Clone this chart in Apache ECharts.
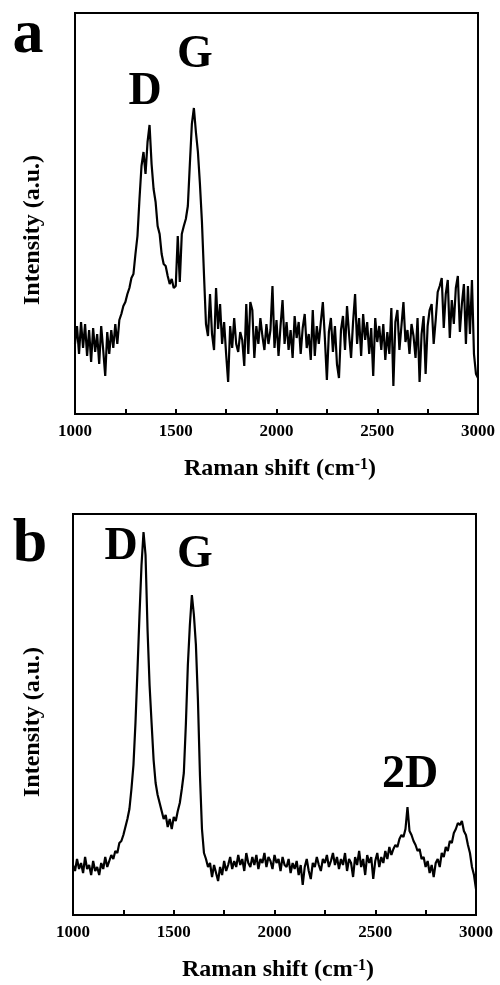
<!DOCTYPE html>
<html>
<head>
<meta charset="utf-8">
<script src="https://cdn.jsdelivr.net/npm/echarts@6/dist/echarts.min.js"></script>
<style>
html,body{margin:0;padding:0;background:#fff;}
#chart{width:500px;height:985px;}
</style>
</head>
<body>
<div id="chart"></div>
<script>
// Raman shift (cm-1) sampling positions
var ramanShift = [
1000,1010,1020,1030,1040,1050,1060,1070,1080,1090,1100,1110,1120,1130,1140,1150,1160,1170,1180,1190,
1200,1210,1220,1230,1240,1250,1260,1270,1280,1290,1300,1310,1320,1330,1340,1350,1360,1370,1380,1390,
1400,1410,1420,1430,1440,1450,1460,1470,1480,1490,1500,1510,1520,1530,1540,1550,1560,1570,1580,1590,
1600,1610,1620,1630,1640,1650,1660,1670,1680,1690,1700,1710,1720,1730,1740,1750,1760,1770,1780,1790,
1800,1810,1820,1830,1840,1850,1860,1870,1880,1890,1900,1910,1920,1930,1940,1950,1960,1970,1980,1990,
2000,2010,2020,2030,2040,2050,2060,2070,2080,2090,2100,2110,2120,2130,2140,2150,2160,2170,2180,2190,
2200,2210,2220,2230,2240,2250,2260,2270,2280,2290,2300,2310,2320,2330,2340,2350,2360,2370,2380,2390,
2400,2410,2420,2430,2440,2450,2460,2470,2480,2490,2500,2510,2520,2530,2540,2550,2560,2570,2580,2590,
2600,2610,2620,2630,2640,2650,2660,2670,2680,2690,2700,2710,2720,2730,2740,2750,2760,2770,2780,2790,
2800,2810,2820,2830,2840,2850,2860,2870,2880,2890,2900,2910,2920,2930,2940,2950,2960,2970,2980,2990,
3000
];
// Panel a intensity (a.u.)
var intensityA = [
70,88,60,92,66,90,58,84,52,86,62,80,50,88,64,38,82,60,84,66,
90,70,94,100,108,112,120,126,136,140,160,178,215,248,262,240,272,289,250,225,
212,188,180,160,150,148,138,130,135,126,128,178,132,180,188,195,208,250,290,306,
282,262,230,192,140,90,78,120,80,64,126,85,110,70,92,60,32,88,66,96,
70,62,82,74,48,110,60,112,104,56,88,70,96,78,64,90,70,84,128,66,
94,58,88,114,70,92,64,84,56,98,76,92,60,86,100,66,80,54,104,58,
88,70,92,112,76,34,82,96,62,88,50,36,84,98,64,108,80,56,92,120,
70,96,58,100,74,92,60,86,38,96,72,88,64,90,54,82,60,106,28,92,
104,64,88,112,72,84,60,90,78,56,96,32,80,98,40,88,104,110,70,94,
122,128,136,86,120,134,76,114,90,126,138,82,110,130,70,128,80,134,60,40,
36
];
// Panel b intensity (a.u.)
var intensityB = [
50,44,56,46,52,42,58,46,50,40,54,44,48,40,52,46,58,48,54,60,
56,64,62,72,74,80,88,96,106,126,150,192,245,300,350,383,360,285,230,192,
155,132,120,112,104,96,100,88,96,86,98,94,104,112,126,142,190,250,290,320,
300,270,215,140,86,62,56,48,52,38,50,42,34,48,40,54,44,50,58,46,
54,48,60,50,56,44,62,52,48,58,50,60,46,56,52,62,48,58,54,46,
60,52,56,44,58,50,48,56,42,52,46,54,40,50,30,48,56,44,36,52,
48,58,50,44,56,52,60,48,54,62,50,58,46,56,50,62,44,56,52,38,
58,50,64,48,56,40,60,52,58,36,54,62,48,58,52,64,56,68,60,66,
70,68,76,80,78,86,108,84,80,74,70,64,66,56,58,48,54,42,50,38,
52,56,48,62,58,68,64,74,72,82,86,92,90,94,84,80,70,62,48,40,
26
];
var xTickLabels = ['1000','1500','2000','2500','3000'];
var peakLabelsA = ['D','G'];
var peakLabelsB = ['D','G','2D'];
var panelLetters = ['a','b'];

function zip(xs, ys){ var out=[]; for(var i=0;i<xs.length;i++){ out.push([xs[i], ys[i]]); } return out; }

var FONT = '"Liberation Serif","Times New Roman",serif';

function xAxisCfg(gi){
  return {
    gridIndex: gi, type:'value', min:1000, max:3000, interval:250,
    axisLine:{show:true, lineStyle:{color:'#000', width:2}},
    axisTick:{show:true, inside:true, length:5, lineStyle:{color:'#000', width:2}},
    splitLine:{show:false},
    axisLabel:{
      margin:9, color:'#000', fontFamily:FONT, fontWeight:'bold', fontSize:17,
      formatter:function(v){ var s=String(v); return xTickLabels.indexOf(s)>=0 ? s : ''; }
    }
  };
}
function yAxisCfg(gi){
  return {
    gridIndex: gi, type:'value', min:0, max:401,
    axisLine:{show:true, lineStyle:{color:'#000', width:2}},
    axisTick:{show:false}, axisLabel:{show:false}, splitLine:{show:false}
  };
}

var chart = echarts.init(document.getElementById('chart'), null, {renderer:'canvas'});

function txt(x, y, text, size, extra){
  var o = {type:'text', x:x, y:y, z:100, style:{text:text, fill:'#000', font:'bold '+size+'px '+FONT, textAlign:'center', textVerticalAlign:'middle'}};
  if (extra) { for (var k in extra) o[k] = extra[k]; }
  return o;
}
function xTitle(x, y){
  return {type:'text', x:x, y:y, z:100, style:{
    text:'Raman shift (cm{sup|-1})', fill:'#000',
    font:'bold 24px '+FONT, textAlign:'center', textVerticalAlign:'middle',
    rich:{ sup:{ fontSize:16, fontWeight:'bold', fontFamily:FONT, verticalAlign:'top', fill:'#000' } }
  }};
}

chart.setOption({
  animation:false,
  backgroundColor:'#fff',
  grid:[
    {left:75, top:13, width:403, height:401, show:true, borderColor:'#000', borderWidth:2, containLabel:false},
    {left:73, top:514, width:403, height:401, show:true, borderColor:'#000', borderWidth:2, containLabel:false}
  ],
  xAxis:[xAxisCfg(0), xAxisCfg(1)],
  yAxis:[yAxisCfg(0), yAxisCfg(1)],
  series:[
    {type:'line', xAxisIndex:0, yAxisIndex:0, data:zip(ramanShift, intensityA), showSymbol:false, lineStyle:{color:'#000', width:2.2}, clip:true},
    {type:'line', xAxisIndex:1, yAxisIndex:1, data:zip(ramanShift, intensityB), showSymbol:false, lineStyle:{color:'#000', width:2.2}, clip:true}
  ],
  graphic:[
    txt(28, 36, panelLetters[0], 62),
    txt(30, 545, panelLetters[1], 62),
    txt(145, 92, peakLabelsA[0], 46),
    txt(195, 55, peakLabelsA[1], 46),
    txt(121, 547, peakLabelsB[0], 46),
    txt(195, 555, peakLabelsB[1], 46),
    txt(410, 775, peakLabelsB[2], 46),
    txt(33, 230, 'Intensity (a.u.)', 24, {rotation:Math.PI/2}),
    txt(33, 722, 'Intensity (a.u.)', 24, {rotation:Math.PI/2}),
    xTitle(280, 469),
    xTitle(278, 970)
  ]
});
</script>
</body>
</html>
